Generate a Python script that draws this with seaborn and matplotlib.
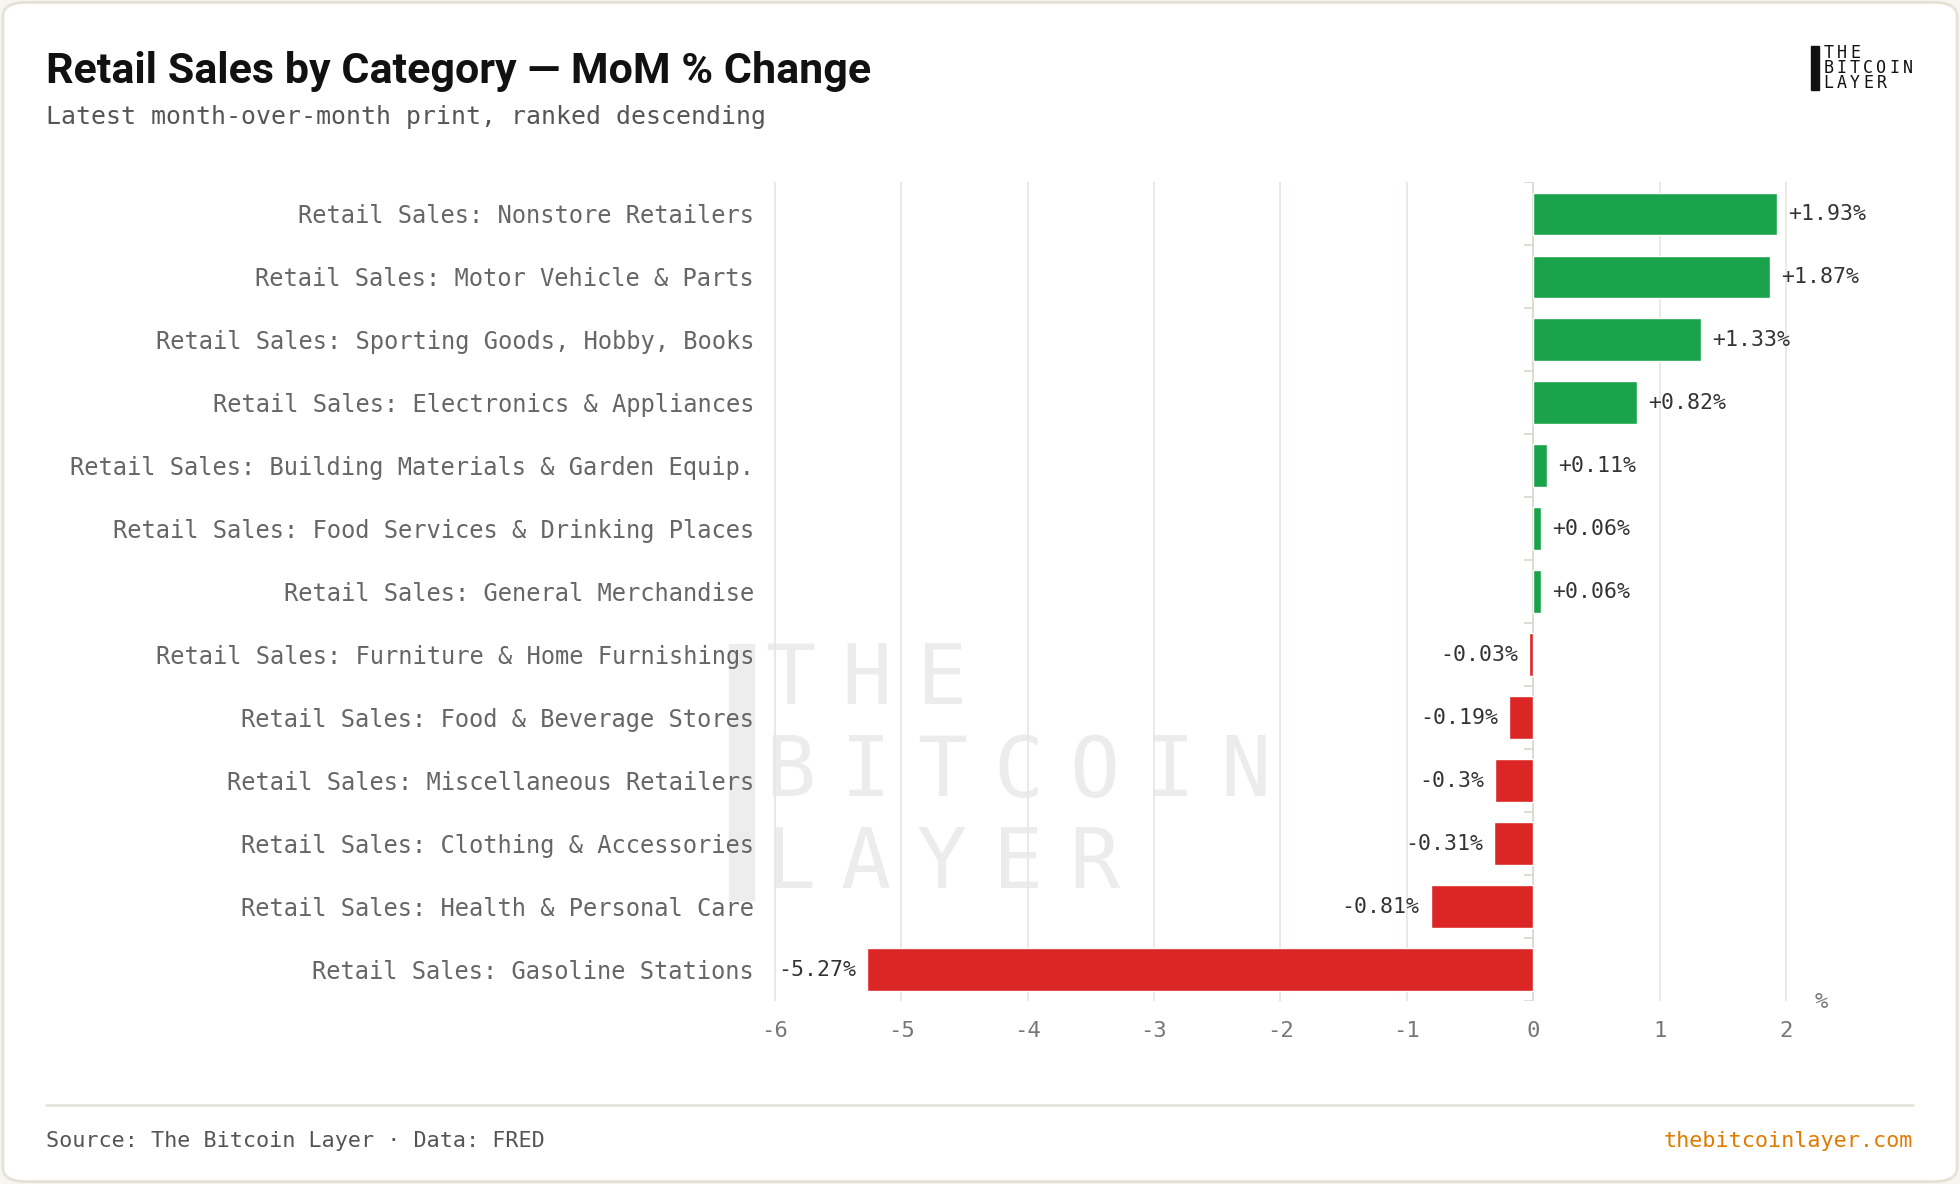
import matplotlib
matplotlib.use("Agg")
import matplotlib.pyplot as plt
from matplotlib.patches import FancyBboxPatch
import seaborn as sns
import pandas as pd
import numpy as np

# data, ranked descending
categories = [
    "Retail Sales: Nonstore Retailers",
    "Retail Sales: Motor Vehicle & Parts",
    "Retail Sales: Sporting Goods, Hobby, Books",
    "Retail Sales: Electronics & Appliances",
    "Retail Sales: Building Materials & Garden Equip.",
    "Retail Sales: Food Services & Drinking Places",
    "Retail Sales: General Merchandise",
    "Retail Sales: Furniture & Home Furnishings",
    "Retail Sales: Food & Beverage Stores",
    "Retail Sales: Miscellaneous Retailers",
    "Retail Sales: Clothing & Accessories",
    "Retail Sales: Health & Personal Care",
    "Retail Sales: Gasoline Stations",
]
mom_pct = [1.93, 1.87, 1.33, 0.82, 0.11, 0.06, 0.06, -0.03, -0.19, -0.30, -0.31, -0.81, -5.27]
value_labels = ["+1.93%", "+1.87%", "+1.33%", "+0.82%", "+0.11%", "+0.06%", "+0.06%",
                "-0.03%", "-0.19%", "-0.3%", "-0.31%", "-0.81%", "-5.27%"]
x_ticks = [-6, -5, -4, -3, -2, -1, 0, 1, 2]

GREEN = "#1aa34a"
RED = "#dc2626"
GRID = "#ebe7df"
MONO = "DejaVu Sans Mono"
W, H = 1960, 1184


def spaced(fig, s, x0, yc, advance, **kw):
    # letter-spaced text, one glyph per cell (pixel coords from top-left)
    for k, ch in enumerate(s):
        fig.text((x0 + advance * (k + 0.5)) / W, 1 - yc / H, ch, ha="center", va="center", **kw)


df = pd.DataFrame({"category": categories, "pct": mom_pct})
df["sign"] = np.where(df["pct"] >= 0, "up", "down")

sns.set_theme(style="white")
plt.rcParams["font.family"] = [MONO, "DejaVu Sans"]

fig = plt.figure(figsize=(19.6, 11.84), dpi=100, facecolor="#f6f5ef")

# card background
card = FancyBboxPatch((0.0015, 0.002), 0.997, 0.996, boxstyle="round,pad=0,rounding_size=0.012",
                      transform=fig.transFigure, facecolor="white", edgecolor="#e4e1d5",
                      linewidth=2, zorder=-10)
fig.patches.append(card)

ax = fig.add_axes([0.394, 0.1545, 0.5366, 0.6914])
ax.set_facecolor("none")

sns.barplot(data=df, x="pct", y="category", hue="sign", palette={"up": GREEN, "down": RED},
            dodge=False, width=0.68, saturation=1, legend=False, ax=ax, zorder=3)

ax.set_xlim(-6.02, 2.3)
ax.set_ylim(len(categories) - 0.5, -0.5)
ax.set_xticks(x_ticks)
ax.set_xticklabels([str(t) for t in x_ticks])
ax.xaxis.grid(True, color=GRID, linewidth=1.3, zorder=0)
ax.yaxis.grid(False)
for s in ax.spines.values():
    s.set_visible(False)
ax.tick_params(axis="x", length=0, pad=14, labelsize=16, labelcolor="#777777")
ax.tick_params(axis="y", length=0, pad=13, labelsize=17.1, labelcolor="#666666")
ax.set_xlabel("")
ax.set_ylabel("")

# zero line with category ticks
ax.axvline(0, color="#dedad1", linewidth=1.3, zorder=2)
bounds = np.arange(len(categories) + 1) - 0.5
ax.hlines(bounds, -0.07, 0, color="#dedad1", linewidth=1.3, zorder=2)

# value labels
for i, (v, lab) in enumerate(zip(mom_pct, value_labels)):
    off = 8 if v >= 0 else -8
    ax.annotate(lab, (v, i), textcoords="offset points", xytext=(off, 0),
                ha="left" if v >= 0 else "right", va="center",
                fontsize=15.5, color="#333333", zorder=5)

ax.annotate("%", (2.3, 0), xycoords=("data", "axes fraction"), textcoords="offset points",
            xytext=(3, -1), ha="right", va="center", fontsize=16, color="#777777")

# watermark
fig.patches.append(plt.Rectangle((729 / W, 1 - 900 / H), 25 / W, 256 / H,
                                 transform=fig.transFigure, color="#ededed", zorder=-5))
for txt, yc in [("THE", 680), ("BITCOIN", 773), ("LAYER", 865)]:
    spaced(fig, txt, 752, yc, 76, fontsize=60, color="#ececec", family=MONO, zorder=-5)

# title block
fig.text(46 / W, 1 - 71 / H, "Retail Sales by Category \u2014 MoM % Change",
         fontsize=31, weight="bold", color="#111111", family=["Roboto", "DejaVu Sans"],
         ha="left", va="center")
fig.text(46 / W, 1 - 117 / H, "Latest month-over-month print, ranked descending",
         fontsize=17.9, color="#555555", ha="left", va="center")

# logo
fig.patches.append(plt.Rectangle((1811 / W, 1 - 90 / H), 8 / W, 44 / H,
                                 transform=fig.transFigure, color="#111111"))
for txt, yc in [("THE", 53), ("BITCOIN", 68), ("LAYER", 83)]:
    spaced(fig, txt, 1822, yc, 13.2, fontsize=12, color="#111111", family=MONO)

# footer
fig.add_artist(plt.Line2D([46 / W, 1913 / W], [1 - 1105 / H] * 2,
                          transform=fig.transFigure, color="#e6e3d9", linewidth=2))
fig.text(46 / W, 1 - 1141 / H, "Source: The Bitcoin Layer \u00b7 Data: FRED",
         fontsize=15.7, color="#555555", ha="left", va="center")
fig.text(1913 / W, 1 - 1141 / H, "thebitcoinlayer.com",
         fontsize=15.7, color="#e07b00", ha="right", va="center")

fig.savefig("out.png", dpi=100, facecolor=fig.get_facecolor())
